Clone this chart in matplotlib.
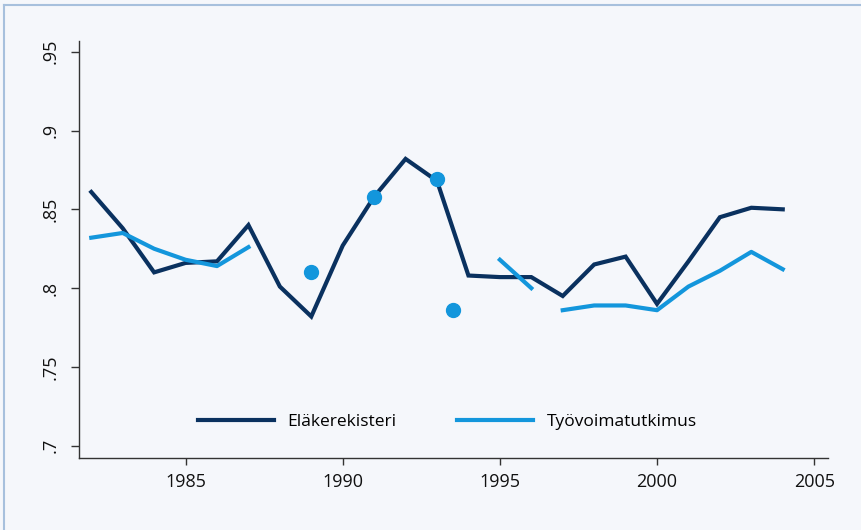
import numpy as np
from matplotlib import pyplot as plt
from matplotlib.lines import Line2D
from matplotlib.ticker import FuncFormatter

# Eläkerekisteri (register data), 1982-2004
years_reg = [1982, 1983, 1984, 1985, 1986, 1987, 1988, 1989, 1990, 1991, 1992, 1993,
             1994, 1995, 1996, 1997, 1998, 1999, 2000, 2001, 2002, 2003, 2004]
vals_reg = [.861, .838, .810, .816, .817, .840, .801, .782, .827, .858, .882, .868,
            .808, .807, .807, .795, .815, .820, .790, .817, .845, .851, .850]

# Työvoimatutkimus (labour force survey): line pieces and single points
years_lfs_a = [1982, 1983, 1984, 1985, 1986, 1987]
vals_lfs_a = [.832, .835, .825, .818, .814, .826]
years_lfs_b = [1995, 1996]
vals_lfs_b = [.818, .800]
years_lfs_c = [1997, 1998, 1999, 2000, 2001, 2002, 2003, 2004]
vals_lfs_c = [.786, .789, .789, .786, .801, .811, .823, .812]
years_lfs_pts = [1989, 1991, 1993, 1993.5]
vals_lfs_pts = [.810, .858, .869, .786]

yticks = [.7, .75, .8, .85, .9, .95]
xticks = [1985, 1990, 1995, 2000, 2005]

dark = '#0a315f'
light = '#1396dc'
bg = '#f5f7fb'

plt.rcParams['font.family'] = ['Open Sans', 'DejaVu Sans']

fig = plt.figure(figsize=(8.62, 5.30), dpi=100, facecolor=bg)
ax = fig.add_axes([0.0913, 0.1364, 0.8689, 0.7868])
ax.set_facecolor(bg)

ax.plot(years_reg, vals_reg, color=dark, lw=3, solid_joinstyle='miter', label='Eläkerekisteri')
ax.plot(years_lfs_a, vals_lfs_a, color=light, lw=3, label='Työvoimatutkimus')
ax.plot(years_lfs_b, vals_lfs_b, color=light, lw=3)
ax.plot(years_lfs_c, vals_lfs_c, color=light, lw=3)
ax.plot(years_lfs_pts, vals_lfs_pts, 'o', color=light, ms=10, zorder=3)

ax.set_xlim(1981.6, 2005.43)
ax.set_ylim(0.6924, 0.957)
ax.set_xticks(xticks)
ax.set_yticks(yticks)
ax.yaxis.set_major_formatter(FuncFormatter(lambda v, p: ('%g' % v).lstrip('0')))
for lab in ax.get_yticklabels():
    lab.set_rotation(90)
    lab.set_va('center')

ax.spines['top'].set_visible(False)
ax.spines['right'].set_visible(False)
for s in ['left', 'bottom']:
    ax.spines[s].set_color('#333333')
    ax.spines[s].set_linewidth(1)
ax.tick_params(axis='both', colors='#333333', labelcolor='#111111', labelsize=13, width=1)
ax.tick_params(axis='y', length=6, pad=8)
ax.tick_params(axis='x', length=5, pad=6)

ax.legend(loc='center', bbox_to_anchor=(0.492, 0.086), ncol=2, frameon=False,
          fontsize=12.5, handlelength=4.4, columnspacing=3.5, handletextpad=0.75,
          borderpad=0, borderaxespad=0)

# thin frame around the figure (left and top edges visible)
fig.add_artist(Line2D([4.5 / 862, 4.5 / 862], [0, 1 - 5 / 530], color='#a7c0dd', lw=1.5))
fig.add_artist(Line2D([4.5 / 862, 1], [1 - 5 / 530, 1 - 5 / 530], color='#a7c0dd', lw=1.5))

fig.savefig('out.png', dpi=100, facecolor=bg)
